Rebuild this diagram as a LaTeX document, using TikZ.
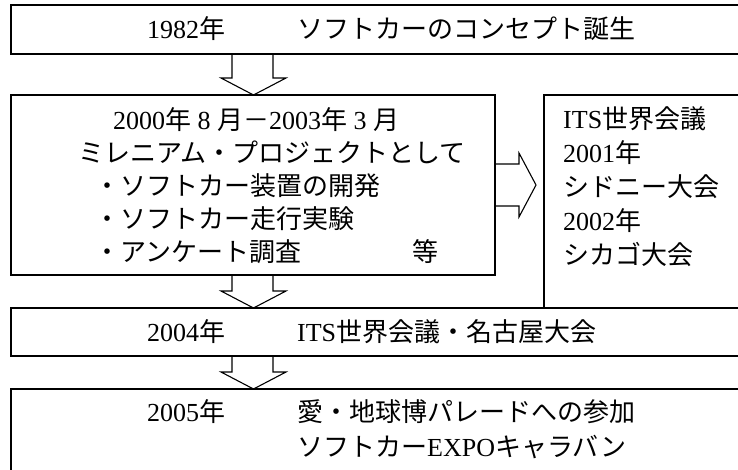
\documentclass[tikz,border=0pt]{standalone}
\usepackage{fontspec}
\setmainfont{Liberation Serif}
\newfontfamily\jp{Noto Sans CJK JP}
\newcommand{\J}[1]{{\jp #1}}
\begin{document}
\begin{tikzpicture}[x=1pt,y=-1pt,
  box/.style={draw, line width=1.1pt, inner sep=0pt, outer sep=0pt, anchor=north west},
  txt/.style={anchor=base west, inner sep=0pt, font=\fontsize{26}{30}\selectfont},
  blockarrow/.style={draw, line width=1.1pt, line join=miter}]
\useasboundingbox (0,0) rectangle (738,469);
% boxes
\node[box, minimum width=740pt, minimum height=49pt] (b1) at (11,5) {};
\node[box, minimum width=484pt, minimum height=180pt] (b2) at (11,95) {};
\node[box, minimum width=210pt, minimum height=213pt] (b3) at (544,95) {};
\node[box, minimum width=740pt, minimum height=48pt] (b4) at (11,308) {};
\node[box, minimum width=740pt, minimum height=100pt] (b5) at (11,389) {};
% texts
\node[txt] (t1) at (147,38) {\makebox[150pt][l]{1982\J{年}}\J{ソフトカーのコンセプト誕生}};
\node[txt] (t21) at (113,129) {2000\J{年} 8 \J{月－}2003\J{年} 3 \J{月}};
\node[txt] (t22) at (78,162) {\J{ミレニアム・プロジェクトとして}};
\node[txt] (t23) at (94,195) {\J{・ソフトカー装置の開発}};
\node[txt] (t24) at (94,228) {\J{・ソフトカー走行実験}};
\node[txt] (t25) at (94,261) {\makebox[318pt][l]{\J{・アンケート調査}}\J{等}};
\node[txt] (t31) at (563,128) {ITS\J{世界会議}};
\node[txt] (t32) at (563,162) {2001\J{年}};
\node[txt] (t33) at (563,196) {\J{シドニー大会}};
\node[txt] (t34) at (563,230) {2002\J{年}};
\node[txt] (t35) at (563,264) {\J{シカゴ大会}};
\node[txt] (t4) at (147,341) {\makebox[150pt][l]{2004\J{年}}ITS\J{世界会議・名古屋大会}};
\node[txt] (t51) at (147,421) {\makebox[150pt][l]{2005\J{年}}\J{愛・地球博パレードへの参加}};
\node[txt] (t52) at (297,456) {\J{ソフトカー}EXPO\J{キャラバン}};
% block arrows
\draw[blockarrow] (b1.south -| 232,0) -- (232,78) -- (221,78) -- (b2.north -| 253.5,0)
  -- (286,78) -- (273,78) -- (b1.south -| 273,0);
\draw[blockarrow] (b2.south -| 232,0) -- (232,291) -- (221,291) -- (b4.north -| 253.5,0)
  -- (286,291) -- (273,291) -- (b2.south -| 273,0);
\draw[blockarrow] (b4.south -| 232,0) -- (232,372) -- (221,372) -- (b5.north -| 253.5,0)
  -- (286,372) -- (273,372) -- (b4.south -| 273,0);
\coordinate (rtip) at (536,185);
\draw[blockarrow] (b2.east |- 0,164) -- (519,164) -- (519,153) -- (rtip)
  -- (519,217) -- (519,206) -- (b2.east |- 0,206);
\end{tikzpicture}
\end{document}
